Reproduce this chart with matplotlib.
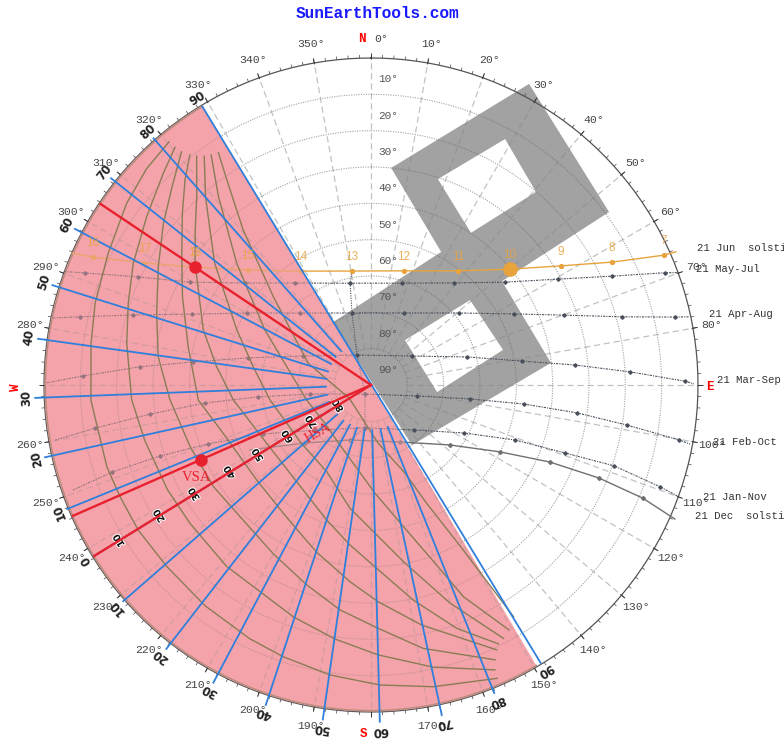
import numpy as np
import matplotlib
matplotlib.use('Agg')
import matplotlib.pyplot as plt
import matplotlib.patheffects as pe
from matplotlib.path import Path
from matplotlib.patches import PathPatch

# everything below is (azimuth deg, zenith deg)
jun_az = [293.8, 294.7, 298.3, 303.8, 313.1, 328.4, 350.5, 16.1, 37.3, 50.2, 57.9, 63.0, 66.1, 66.4]
jun_zen = [90, 84.2, 70.9, 58.3, 46.3, 36.8, 31.8, 32.7, 39.5, 49.8, 61.7, 74.5, 88.2, 91.6]
jun_hours = ['16', '17', '18', '15', '14', '13', '12', '11', '10', '9', '8', '7']

may_az = [290.3, 291.4, 294.9, 299.6, 309, 323.3, 348.4, 16.9, 39.1, 52.5, 60.5, 65.7, 69.1, 69.9]
may_zen = [90, 84.5, 70.7, 57.3, 44.6, 35, 28.6, 29.3, 36.2, 46.5, 59.2, 72.8, 86.6, 90]
apr_az = [281.9, 283.2, 286.4, 291.6, 300.1, 315.4, 345.2, 24.6, 50.7, 63.6, 70.1, 74.8, 77.4, 77.9]
apr_zen = [89.4, 82.2, 68.3, 53, 39.5, 27.8, 20.5, 21.8, 31.3, 44, 56.5, 71.6, 85.7, 89.5]
mar_az = [270.4, 271.8, 274.5, 277.4, 282.4, 293.1, 335, 54.7, 73.7, 81, 84.4, 87.1, 89.3, 89.8]
mar_zen = [89.2, 79.3, 63.8, 49.4, 34.7, 20.4, 9.1, 13.8, 27.5, 42.1, 56.4, 71.4, 86.4, 88.9]
feb_az = [260.1, 261.1, 262.5, 263.8, 264, 261.6, 213.7, 103.4, 98, 97.1, 97.7, 98.9, 100.1, 100.5]
feb_zen = [88.3, 76.9, 61.3, 46, 31.3, 17, 3, 13, 27.5, 42.4, 57.2, 71.3, 86.1, 89.3]
jan_az = [250.6, 251.4, 251.4, 250.1, 245.6, 231.2, 188, 136.3, 117.3, 110.9, 109.3, 108.4, 109.4, 109.9]
jan_zen = [87, 75.2, 61.3, 47.7, 32.6, 19.8, 11.9, 17.1, 28.8, 42.4, 56.6, 70.5, 84.3, 89.6]
dec_az = [241.8, 228.7, 200.9, 153, 127.2, 117.4, 113.3, 112.2, 112.6, 113.8]
dec_zen = [37.8, 24.2, 16.2, 17.6, 27.3, 40, 53.6, 67.8, 81, 91.4]

path_names = ['21 Jun  solstice', '21 May-Jul', '21 Apr-Aug', '21 Mar-Sep', '21 Feb-Oct', '21 Jan-Nov', '21 Dec  solstice']

# hour 13 connector through the monthly paths
h13_az = [350.5, 348.4, 345.2, 335, 213.7, 188, 200.9]
h13_zen = [31.8, 28.6, 20.5, 9.1, 3, 11.9, 16.2]

# obstacle outline and its two openings
bldg_az = [27.7, 54, 51.6, 83, 145.7, 328.9, 27.8, 5.3]
bldg_zen = [93.6, 81, 46, 49.9, 20, 20.2, 41.4, 60]
hole1_az = [28.6, 18, 33.3, 40.5]
hole1_zen = [77.1, 59.6, 50.1, 69.9]
hole2_az = [49.4, 37.1, 96.1, 75.1]
hole2_zen = [35.9, 15.5, 18.3, 37.6]

# horizontal shadow angle lines
hsa_labels = ['90', '80', '70', '60', '50', '40', '30', '20', '10', '0', '10', '20', '30', '40', '50', '60', '70', '80', '90']
hsa_az = [328.8, 318.6, 308.5, 297.8, 287.4, 277.9, 267.8, 257.5, 247.8, 238.3, 228.9, 217.8, 207.9, 198.2, 188.2, 178.5, 167.9, 158.2, 148.6]
hsa_end = [89.6, 90.5, 91.4, 92.1, 91.9, 92.5, 92.5, 91.9, 90.3, 89.6, 90.5, 91.9, 92.7, 92.7, 93, 92.7, 92.9, 91.3, 89.6]
hsa_inner = 12.4

# vertical shadow angle scale on the normal
vsa_labels = ['10', '20', '30', '40', '50', '60', '70', '80']
vsa_zen = [81.5, 68.5, 57.2, 45.7, 36.6, 27, 19.3, 10.7]

# vertical shadow angle curves, 10 to 80
v10_az = [320.3, 314, 306.6, 296.6, 286.5, 278.5, 266.9, 252.8, 246, 238.1, 228.4, 217, 205.5, 197.9, 188, 178.3, 168.3, 156.7]
v10_zen = [87, 85.8, 83.8, 80.9, 79.2, 77.9, 77.2, 76.1, 75.6, 75.5, 75.2, 76, 77.4, 78.6, 80.6, 82.6, 84.8, 87.9]
v20_az = [320.5, 315.5, 306.9, 297.1, 288.6, 279.7, 266.5, 256.2, 242.8, 232.6, 218.6, 198.5, 188.1, 178.5, 167.6, 156.5]
v20_zen = [84.8, 81.6, 77.2, 73.5, 70.5, 68.2, 66, 64.1, 63, 62.7, 63.8, 67.3, 70.6, 74.3, 79.5, 85.5]
v30_az = [320.9, 314.9, 307.9, 299.1, 288.5, 277.6, 265.9, 251.2, 237.2, 225, 210, 197.8, 187.8, 178.3, 168.8, 155.7]
v30_zen = [82.7, 77.3, 72.4, 67, 62.2, 59.1, 55.5, 52.6, 51.6, 51.1, 53.7, 57.8, 62.5, 67, 73.9, 83]
v40_az = [321.8, 317.8, 312.3, 304.1, 295.1, 281.8, 265, 251.9, 230.3, 213.3, 205, 198, 186, 178.1, 168.1, 154.6]
v40_zen = [80.6, 76.2, 70.2, 62.9, 57.3, 51.4, 47.7, 42.8, 40.9, 43, 45.4, 48.4, 54.5, 59.7, 67.5, 80.7]
v50_az = [322.7, 317.2, 311.4, 304.7, 288.2, 276.8, 263.8, 240.8, 218, 198.2, 187.5, 178.2, 168.9, 160.6, 153.8]
v50_zen = [79.2, 70.6, 64.5, 58.9, 48.6, 42.8, 38.1, 32.9, 33.5, 39.1, 44.4, 50.5, 60.3, 71, 79.4]
v60_az = [323.9, 318.7, 313.9, 307.9, 292.3, 278.8, 261.6, 230.6, 207, 189.7, 177.8, 169.2, 160.1, 152.4]
v60_zen = [77.9, 69, 61.5, 54.5, 39.9, 32.8, 28.1, 25, 26.8, 34.4, 41.3, 49.9, 63.8, 78.7]
v70_az = [325.2, 321, 312.2, 297.4, 282.2, 256.9, 230, 207.3, 177.9, 166.7, 160, 156.4, 150.6]
v70_zen = [77.1, 66.7, 49.9, 32.9, 23.7, 18.2, 16.5, 18.6, 29.8, 40.5, 52.7, 63.6, 77.4]
v80_az = [326.7, 324.9, 320.5, 312.1, 289.1, 238, 172.9, 158.9, 154.8, 150.8, 148.4]
v80_zen = [76.5, 69, 55.3, 36.2, 18.3, 7, 16.2, 26, 36, 52, 74.9]

# marked sun position and the two shadow angle rays
sun_az, sun_zen = 50.2, 49.8
red_az, red_zen = 303.8, 58.3
vsa_az, vsa_zen_pt = 246.3, 51.1

BLUE = '#2f7fdc'
RED = '#e8212e'
OLIVE = '#8a7c55'
ORANGE = '#e8a33d'
PINK = '#f4a3aa'
DARK = '#4a4f5c'
MONO = 'Liberation Mono'


def rad(a):
	return np.radians(a)


fig = plt.figure(figsize=(7.84, 7.40), dpi=100)
ax = fig.add_axes([44 / 784, 28 / 740, 654 / 784, 654 / 740], projection='polar')
ax.set_theta_zero_location('N')
ax.set_theta_direction(-1)
ax.set_axis_off()

# obstacle
verts, codes = [], []
for a, z in [(bldg_az, bldg_zen), (hole1_az, hole1_zen), (hole2_az, hole2_zen)]:
	pts = list(zip(rad(a), z))
	verts += pts + [pts[0]]
	codes += [Path.MOVETO] + [Path.LINETO] * (len(pts) - 1) + [Path.CLOSEPOLY]
ax.add_patch(PathPatch(Path(verts, codes), facecolor='#a2a2a2', edgecolor='none', clip_on=False, zorder=1))

# shaded sector
ax.bar(rad(239.2), 90, width=rad(179.4), bottom=0, color=PINK, linewidth=0, zorder=2)

# grid
circle = np.linspace(0, 2 * np.pi, 361)
for z in range(10, 90, 10):
	ax.plot(circle, np.full(361, z), color='#666666', alpha=0.6, lw=0.8, ls=(0, (1, 1.2)), zorder=3)
for a in range(0, 360, 10):
	ax.plot([rad(a), rad(a)], [10, 90], color='#7f8a8a', alpha=0.5, lw=0.9, ls=(0, (5, 3)), zorder=3)

# elevation scale
for z in range(0, 90, 10):
	ax.annotate('%d°' % (90 - z), (0, z), xytext=(17, 15), textcoords='offset pixels',
		ha='center', va='center', fontsize=8, family=MONO, color='#555555', zorder=8)

# outer ring and ticks
ax.plot(circle, np.full(361, 90), color='#555555', lw=0.9, clip_on=False, zorder=3)
minor = np.arange(0, 360, 2)
ax.vlines(rad(minor), 90, 90.9, color='#444444', lw=0.5, clip_on=False, zorder=3)
major = np.arange(0, 360, 10)
ax.vlines(rad(major), 89.6, 91.3, color='#333333', lw=0.7, clip_on=False, zorder=3)
edge = np.linspace(149.5, 328.8, 100)
ax.plot(rad(edge), np.full(100, 89.6), color=OLIVE, lw=1.0, zorder=4)

# azimuth labels
for a in range(0, 360, 10):
	if a in (90, 180, 270):
		continue
	ax.text(rad(a if a else 1.7), 95.2, '%d°' % a, ha='center', va='center', fontsize=8.2, family=MONO, color='#444444', zorder=8)
for letter, a, z, rot in [('N', 358.5, 95.3, 0), ('E', 90.3, 93.3, 0), ('S', 181.3, 96, 0), ('W', 269.7, 97.7, 90)]:
	ax.text(rad(a), z, letter, color='red', fontsize=9, fontweight='bold', ha='center', va='center', family=MONO, rotation=rot)

# sun paths
dotted = [(may_az, may_zen), (apr_az, apr_zen), (mar_az, mar_zen), (feb_az, feb_zen), (jan_az, jan_zen)]
for a, z in dotted:
	ax.plot(rad(a), z, color=DARK, lw=0.8, ls=(0, (2, 1, 1, 1)), marker='D', ms=1.8,
		markevery=list(range(1, len(a) - 1)), clip_on=False, zorder=4)
ax.plot(rad(dec_az), dec_zen, color='#707070', lw=1.0, marker='D', ms=2,
	markevery=list(range(1, len(dec_az) - 1)), clip_on=False, zorder=4)
ax.plot(rad(h13_az), h13_zen, color=DARK, lw=0.8, ls=(0, (1, 1.2)), zorder=4)
ax.plot(rad(jun_az), jun_zen, color=ORANGE, lw=1.0, marker='o', ms=2.8,
	markevery=list(range(1, len(jun_az) - 1)), clip_on=False, zorder=4.2)
for a, z, h in zip(jun_az[1:-1], jun_zen[1:-1], jun_hours):
	ax.annotate(h, (rad(a), z), xytext=(0, 14), textcoords='offset pixels', ha='center', va='center',
		fontsize=8.5, family='Liberation Sans', color=ORANGE, alpha=0.85, zorder=8)

# tint everything that falls inside the sector
ax.bar(rad(239.2), 90, width=rad(179.4), bottom=0, color=PINK, alpha=0.45, linewidth=0, zorder=4.3)

# month labels at the east end of each path
ends = [(jun_az, jun_zen), (may_az, may_zen), (apr_az, apr_zen), (mar_az, mar_zen), (feb_az, feb_zen), (jan_az, jan_zen), (dec_az, dec_zen)]
shift = [(21, 4), (18, 4), (20, 3), (23, 4), (23, 2), (26, -1), (20, 3)]
for (a, z), s, name in zip(ends, shift, path_names):
	ax.annotate(name, (rad(a[-1]), z[-1]), xytext=s, textcoords='offset pixels', ha='left', va='center',
		fontsize=7.7, family=MONO, color='#333333', annotation_clip=False, zorder=8)

# vsa curves
curves = [(v10_az, v10_zen), (v20_az, v20_zen), (v30_az, v30_zen), (v40_az, v40_zen),
	(v50_az, v50_zen), (v60_az, v60_zen), (v70_az, v70_zen), (v80_az, v80_zen)]
for a, z in curves:
	ax.plot(rad(a), z, color=OLIVE, lw=1.0, zorder=4.5)

# hsa lines
for i, (a, e, lab) in enumerate(zip(hsa_az, hsa_end, hsa_labels)):
	if i not in (0, 18):
		ax.plot([rad(a), rad(a)], [hsa_inner if i != 9 else 10, e], color=BLUE, lw=1.3, clip_on=False, zorder=5)
	ax.text(rad(a), e + 2.4, lab, rotation=360 - a, rotation_mode='anchor', ha='center', va='center',
		fontsize=8.5, fontweight='bold', color='#222222', zorder=8)
ax.plot(rad([hsa_az[0], hsa_az[-1]]), [hsa_end[0], hsa_end[-1]], color=BLUE, lw=1.3, clip_on=False, zorder=5)

# vsa scale
for lab, z in zip(vsa_labels, vsa_zen):
	ax.text(rad(hsa_az[9]), z, lab, rotation=360 - hsa_az[9], rotation_mode='anchor', ha='center', va='center',
		fontsize=7, fontweight='bold', color='#111111', zorder=5.5,
		path_effects=[pe.withStroke(linewidth=1.4, foreground='white')])

# red rays
ax.plot(rad([red_az, red_az]), [0, 89.6], color=RED, lw=1.7, zorder=6)
ax.plot(rad([vsa_az, vsa_az]), [0, 89.6], color=RED, lw=1.7, zorder=6)
ax.plot(rad([hsa_az[9], hsa_az[9]]), [0, 89.6], color=RED, lw=1.7, zorder=6)
ax.plot(rad([red_az]), [red_zen], 'o', color=RED, ms=8, zorder=7)
ax.plot(rad([vsa_az]), [vsa_zen_pt], 'o', color=RED, ms=8, zorder=7)
ax.plot(rad([sun_az]), [sun_zen], 'o', color=ORANGE, ms=9.5, zorder=7)
ax.text(rad(242.1), 54.2, 'VSA', color=RED, fontsize=10.5, family='Liberation Serif', ha='center', va='center', zorder=7)
ax.text(rad(227.8), 19.7, 'HSA', color=RED, fontsize=10, family='Liberation Serif', rotation=30, ha='center', va='center', zorder=7)

ax.set_rlim(0, 90)
fig.text(377 / 784, 1 - 14 / 740, 'SunEarthTools.com', color='#1a1aff', fontsize=11.6, family=MONO, fontweight='bold', ha='center', va='center')

fig.savefig('out.png', dpi=100, facecolor='white')
